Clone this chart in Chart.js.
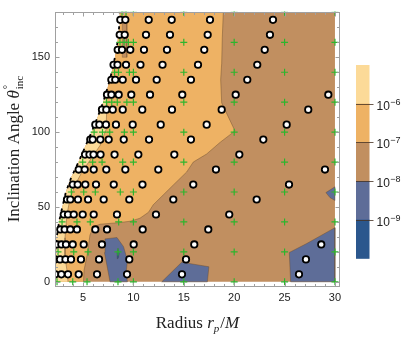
<!DOCTYPE html>
<html><head><meta charset="utf-8">
<style>html,body{margin:0;padding:0;background:#fff;} #c{display:block}</style>
<script src="https://cdn.jsdelivr.net/npm/chart.js@4.4.1/dist/chart.umd.min.js"></script>
</head><body>
<canvas id="c" width="407" height="337"></canvas>
<script>
// ---- tick labels ----
const xTicks = [5, 10, 15, 20, 25, 30];
const yTicks = [0, 50, 100, 150];

// ---- sample points (white circles) : rows of inclination, radii per row ----
const circleTheta = [175,165,155,145,135,125,115,105,95,85,75,65,55,45,35,25,15,5];
const circleR = [
  [8.70, 9.20, 11.52, 13.80, 17.60, 23.85],
  [8.64, 9.14, 11.25, 13.63, 17.37, 23.55],
  [8.44, 8.87, 9.69, 11.05, 13.33, 17.03, 23.03],
  [8.03, 8.42, 9.27, 10.70, 12.89, 16.41, 22.29],
  [7.81, 8.20, 8.94, 10.26, 12.31, 15.71, 21.30],
  [7.38, 7.81, 8.54, 9.79, 11.65, 14.85, 20.15, 29.34],
  [6.88, 7.31, 7.95, 8.94, 10.88, 13.83, 18.76, 27.35],
  [6.22, 6.62, 7.28, 8.27, 9.93, 12.71, 17.27, 25.21],
  [5.72, 5.96, 6.72, 7.55, 9.04, 11.55, 15.71, 22.89],
  [5.20, 5.64, 6.04, 6.74, 8.13, 10.49, 14.06, 20.51],
  [4.57, 5.17, 6.06, 7.31, 9.20, 12.47, 18.19, 29.01],
  [3.98, 4.47, 5.23, 6.29, 8.05, 10.90, 15.94, 25.44],
  [3.41, 3.74, 4.50, 5.50, 7.05, 9.59, 13.96, 22.23],
  [3.09, 3.51, 4.08, 4.97, 6.06, 8.37, 12.24, 19.51],
  [2.75, 3.18, 3.74, 4.40, 6.22, 7.38, 10.92, 17.43],
  [2.42, 2.85, 3.31, 3.98, 5.07, 6.88, 10.03, 16.04, 28.64],
  [2.22, 2.72, 3.26, 3.81, 4.80, 6.59, 9.59, 15.22, 27.12],
  [2.25, 2.85, 3.51, 4.57, 6.39, 9.37, 14.82, 26.43]
];

// ---- green crosses ----
const crossTheta = [180,160,140,120,100,80,60,40,20,0];
const crossRLeft = [
  [8.87, 9.27],
  [8.67, 9.07, 9.5],
  [8.13, 8.52, 9.6],
  [7.33, 7.85, 8.4, 9.35],
  [6.1, 6.93, 7.65, 9.1],
  [4.97, 5.96, 6.89, 8.94],
  [3.84, 5.07, 6.22, 8.7],
  [2.92, 4.4, 5.72, 8.54],
  [2.52, 4.08, 5.5, 8.47],
  [2.42, 3.98, 5.4, 8.47]
];
const crossRGrid = [10, 15, 20, 25, 30];

// ---- separatrix (dashed, left edge of domain) ----
const sepTheta = [0,10,20,30,40,50,60,70,80,90,100,110,120,130,140,150,160,170,180];
const sepR = [2.08,2.12,2.22,2.4,2.62,2.95,3.3,3.85,4.55,5.2,5.85,6.45,7.0,7.45,7.85,8.17,8.42,8.58,8.64];

// ---- contour boundaries ----
const orangeR = [18.92,18.82,18.76,18.66,18.76,20.08,18.59,17.27,15.94,15.29,13.96,12.97,11.97,11.5,10.65,9.7,8.5,6.7,6.05,5.69,5.4,5.1,5.05];
const orangeT = [180,163,146,135,119.5,100.8,93.1,85.4,80,73.4,64.7,58.1,51.5,46.5,42.5,40.5,39.5,38.5,36.8,31.3,17.6,7.7,0];
const lightR = [7.2,7.38,7.28,6.69,5.89,4.9,4.21,3.71,3.41,3.21,3.21,3.41,3.51];
const lightT = [124,119.5,101.6,91.1,83.2,73.4,64.8,55.6,45.1,29.4,16.2,7.7,0];
const blueAR = [7.18,8.37,9.02,9.41,9.27,9.41,7.68,7.43,7.13];
const blueAT = [28.7,29.6,23.5,14.3,5.7,0,0,9.0,19.5];
const blueBR = [12.81,14.79,17.49,17.34];
const blueBT = [0,13.1,10.1,0];
const blueCR = [25.47,27.2,30,30,25.6];
const blueCT = [19.6,25.6,36.2,0,0];
const blueDR = [30,29.1,29.5,30];
const blueDT = [63.5,59.6,56.3,54.3];
const darkR = [8.47,8.6,8.55,8.47,8.38,8.36];
const darkT = [22.5,19,16.5,15.5,17,19.5];
const stripR = [8.9,9.35,9.35,8.95];
const stripT = [174,174,150,150];

// ---- colour bar ----
const barColors = ['#FCDA98','#EEB264','#C18F60','#5E6D98','#2B578D'];
const barExponents = [-6,-7,-8,-9];

// ---------------------------------------------------------------
const pts = (rs, ts) => rs.map((r, i) => ({x: r, y: ts[i]}));
const close = a => a.concat([a[0]]);
const sepPts = pts(sepR, sepTheta);
const basePoly = close([...sepPts, {x:30,y:180}, {x:30,y:0}]);
const orangePoly = close([...sepPts, ...pts(orangeR, orangeT)]);
const lightPoly = close([...sepPts.filter(p => p.y <= 120), ...pts(lightR, lightT)]);

const circlePts = [];
circleTheta.forEach((t, i) => circleR[i].forEach(r => circlePts.push({x: r, y: t})));
const crossPts = [];
crossTheta.forEach((t, i) => [...crossRLeft[i], ...crossRGrid].forEach(r => crossPts.push({x: r, y: t})));

const edge = 'rgba(105,75,45,0.55)';
function poly(data, color, order, bw = 0, bc = edge) {
  return {type: 'line', data, backgroundColor: color, borderColor: bc, borderWidth: bw,
          fill: 'shape', pointRadius: 0, tension: 0, order};
}
function contour(data, order) {
  return {type: 'line', data, borderColor: edge, borderWidth: 0.8, fill: false,
          pointRadius: 0, tension: 0, order};
}

const decor = {
  id: 'decor',
  afterDraw(chart) {
    const {ctx, chartArea: a, scales: {x, y}} = chart;
    ctx.save();
    const L = Math.round(a.left) + 0.5, R = Math.round(a.right) - 0.5;
    const T = Math.round(a.top) + 0.5, B = Math.round(a.bottom) - 0.5;
    ctx.strokeStyle = '#a0a0a0';
    ctx.lineWidth = 1;
    ctx.strokeRect(L, T, R - L, B - T);
    ctx.beginPath();
    for (let v = 3; v <= 30; v++) {
      const px = Math.round(x.getPixelForValue(v)) + 0.5;
      const len = v % 5 === 0 ? 4 : 2.5;
      ctx.moveTo(px, B); ctx.lineTo(px, B - len);
      ctx.moveTo(px, T); ctx.lineTo(px, T + len);
    }
    for (let v = 0; v <= 180; v += 10) {
      const py = Math.round(y.getPixelForValue(v)) + 0.5;
      const len = v % 50 === 0 ? 4 : 2.5;
      ctx.moveTo(L, py); ctx.lineTo(L + len, py);
      ctx.moveTo(R, py); ctx.lineTo(R - len, py);
    }
    ctx.stroke();

    // colour bar
    const bx = 356, bw = 13.5, top = 65, bh = 38.66;
    barColors.forEach((c, i) => {
      ctx.fillStyle = c;
      ctx.fillRect(bx, top + i * bh, bw, bh + 0.5);
    });
    ctx.strokeStyle = 'rgba(70,50,35,0.8)';
    ctx.lineWidth = 1;
    barExponents.forEach((e, i) => {
      const yy = Math.round(top + (i + 1) * bh) + 0.5;
      ctx.beginPath(); ctx.moveTo(bx, yy); ctx.lineTo(bx + bw + 4, yy); ctx.stroke();
      ctx.fillStyle = '#222';
      ctx.textBaseline = 'alphabetic';
      ctx.textAlign = 'left';
      ctx.font = '12px "Liberation Sans"';
      ctx.fillText('10', 376.5, yy + 5.5);
      const w = ctx.measureText('10').width;
      ctx.font = '9px "Liberation Sans"';
      ctx.fillText('\u2212' + Math.abs(e), 376.5 + w + 0.5, yy + 0.5);
    });

    // axis titles
    ctx.fillStyle = '#222';
    ctx.textAlign = 'left';
    ctx.textBaseline = 'alphabetic';
    const fN = '17px "Liberation Serif"', fI = 'italic 17px "Liberation Serif"';
    const fS = '11px "Liberation Serif"', fSI = 'italic 11px "Liberation Serif"';
    // x title
    const xr = [['Radius ', fN, 0], ['r', fI, 0], ['p', fSI, 4], ['/', fN, 0], ['M', fI, 0]];
    let tw = 0;
    xr.forEach(r => { ctx.font = r[1]; tw += ctx.measureText(r[0]).width + (r[0] === 'p' ? 1 : 0); });
    let cx = (a.left + a.right) / 2 - tw / 2;
    xr.forEach(r => { ctx.font = r[1]; ctx.fillText(r[0], cx, 328 + r[2]); cx += ctx.measureText(r[0]).width + (r[0] === 'p' ? 1 : 0); });
    // y title
    ctx.save();
    ctx.font = fN; const w1 = ctx.measureText('Inclination Angle ').width;
    ctx.font = fI; const w2 = ctx.measureText('\u03B8').width;
    ctx.font = fS; const w3 = Math.max(ctx.measureText('\u00B0').width, ctx.measureText('inc').width);
    const total = w1 + w2 + 1 + w3;
    const cy = (a.top + a.bottom) / 2;
    ctx.translate(19, cy);
    ctx.rotate(-Math.PI / 2);
    let sx = -total / 2;
    ctx.font = fN; ctx.fillText('Inclination Angle ', sx, 0); sx += w1;
    ctx.font = fI; ctx.fillText('\u03B8', sx, 0); sx += w2 + 1;
    ctx.font = fS; ctx.fillText('\u00B0', sx, -8); ctx.fillText('inc', sx, 3.5);
    ctx.restore();
    ctx.restore();
  }
};

new Chart(document.getElementById('c'), {
  type: 'scatter',
  data: {
    datasets: [
      {data: circlePts, pointStyle: 'circle', pointRadius: 3.2, pointBackgroundColor: '#fff',
       pointBorderColor: '#000', pointBorderWidth: 1.8, order: 0},
      {data: crossPts, pointStyle: 'cross', pointRadius: 3.5, pointBorderColor: '#2DB52D',
       pointBorderWidth: 1.2, order: 1},
      {type: 'line', data: sepPts, borderColor: '#000', borderWidth: 1.8, borderDash: [3, 5],
       fill: false, pointRadius: 0, tension: 0, order: 2},
      contour(pts(orangeR, orangeT), 3),
      contour(pts(lightR, lightT), 3),
      poly(close(pts(darkR, darkT)), barColors[4], 4, 0.6),
      poly(close(pts(blueAR, blueAT)), barColors[3], 5, 0.8),
      poly(close(pts(blueBR, blueBT)), barColors[3], 5, 0.8),
      poly(close(pts(blueCR, blueCT)), barColors[3], 5, 0.8),
      poly(close(pts(blueDR, blueDT)), barColors[3], 5, 0.8),
      poly(close(pts(stripR, stripT)), barColors[2], 6, 0.6),
      poly(lightPoly, barColors[0], 7),
      poly(orangePoly, barColors[1], 8),
      poly(basePoly, barColors[2], 9)
    ]
  },
  options: {
    responsive: false,
    animation: false,
    events: [],
    layout: {padding: {left: 0, top: 6.7, right: 67, bottom: 0}},
    plugins: {legend: {display: false}, tooltip: {enabled: false}},
    scales: {
      x: {
        type: 'linear', min: 2.22, max: 30.5,
        grid: {display: false, drawTicks: false},
        border: {display: false},
        afterBuildTicks: s => { s.ticks = xTicks.map(v => ({value: v})); },
        afterFit: s => { s.height = 50.5; },
        ticks: {padding: 5, color: '#222', font: {family: 'Liberation Sans', size: 11},
                autoSkip: false, maxRotation: 0, callback: v => String(v)}
      },
      y: {
        type: 'linear', min: -3.1, max: 180.5,
        grid: {display: false, drawTicks: false},
        border: {display: false},
        afterBuildTicks: s => { s.ticks = yTicks.map(v => ({value: v})); },
        afterFit: s => { s.width = 55; },
        ticks: {padding: 5, color: '#222', font: {family: 'Liberation Sans', size: 11},
                autoSkip: false, callback: v => String(v)}
      }
    }
  },
  plugins: [decor]
});
</script>
</body></html>
